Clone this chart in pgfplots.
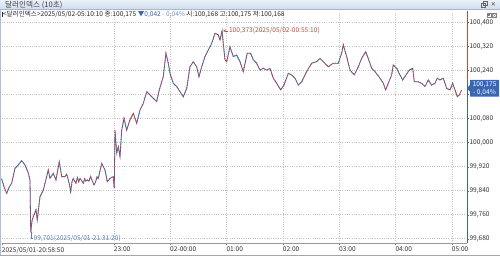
\documentclass[border=0pt]{standalone}
\usepackage{fontspec}
\setmainfont{Noto Sans CJK KR}
\newfontfamily\dejavu{DejaVu Sans}
\usepackage{pgfplots}
\usepackage{pgfplotstable}
\pgfplotsset{compat=1.18}
\definecolor{upred}{HTML}{C8453C}
\definecolor{dnblue}{HTML}{3D63AE}
\definecolor{gridc}{HTML}{C4C4C4}
\definecolor{tagblue}{HTML}{3A66B2}
\definecolor{barA}{HTML}{EAF1F9}
\definecolor{barB}{HTML}{CDDBEC}
\definecolor{lowc}{HTML}{5B7DB5}

\pgfplotstableread{
h v
-2.994 99.880
-2.950 99.852
-2.905 99.831
-2.860 99.852
-2.816 99.865
-2.757 99.915
-2.699 99.926
-2.639 99.940
-2.580 99.926
-2.521 99.899
-2.491 99.875
-2.478 99.701
-2.455 99.740
-2.433 99.753
-2.385 99.776
-2.362 99.742
-2.314 99.820
-2.255 99.842
-2.195 99.887
-2.167 99.909
-2.136 99.881
-2.078 99.898
-2.030 99.876
-1.971 99.937
-1.928 99.887
-1.870 99.887
-1.840 99.895
-1.811 99.876
-1.790 99.860
-1.769 99.837
-1.745 99.870
-1.723 99.881
-1.700 99.872
-1.675 99.865
-1.650 99.884
-1.625 99.870
-1.604 99.881
-1.575 99.874
-1.545 99.865
-1.520 99.880
-1.500 99.872
-1.474 99.876
-1.445 99.872
-1.414 99.887
-1.390 99.875
-1.355 99.859
-1.330 99.868
-1.300 99.886
-1.279 99.881
-1.218 99.931
-1.160 99.909
-1.119 99.870
-1.071 99.881
-1.012 99.887
-0.995 99.848
-0.982 100.042
-0.952 99.965
-0.923 99.987
-0.893 99.953
-0.863 100.042
-0.822 100.081
-0.775 100.042
-0.716 100.076
-0.657 100.098
-0.597 100.065
-0.538 100.109
-0.480 100.131
-0.419 100.170
-0.361 100.159
-0.302 100.148
-0.242 100.137
-0.196 100.176
-0.125 100.220
-0.077 100.298
-0.036 100.265
-0.006 100.231
0.053 100.198
0.113 100.187
0.172 100.170
0.230 100.153
0.291 100.181
0.349 100.253
0.408 100.270
0.468 100.253
0.509 100.220
0.557 100.253
0.615 100.287
0.674 100.309
0.734 100.331
0.793 100.365
0.852 100.359
0.882 100.342
0.919 100.373
0.940 100.331
0.971 100.276
1.001 100.270
1.059 100.320
1.118 100.287
1.178 100.292
1.237 100.270
1.295 100.237
1.366 100.298
1.427 100.298
1.473 100.276
1.533 100.265
1.592 100.242
1.650 100.248
1.711 100.242
1.769 100.248
1.828 100.215
1.888 100.198
1.959 100.176
2.018 100.192
2.094 100.231
2.155 100.226
2.213 100.215
2.272 100.192
2.332 100.203
2.421 100.237
2.510 100.265
2.598 100.270
2.657 100.281
2.716 100.270
2.804 100.253
2.893 100.265
2.982 100.265
3.042 100.298
3.071 100.326
3.131 100.287
3.190 100.242
3.266 100.226
3.337 100.253
3.397 100.281
3.468 100.303
3.514 100.281
3.575 100.248
3.633 100.237
3.722 100.215
3.781 100.198
3.823 100.176
3.869 100.198
3.930 100.226
3.958 100.259
4.019 100.248
4.077 100.226
4.125 100.209
4.184 100.226
4.242 100.242
4.303 100.248
4.331 100.203
4.402 100.203
4.463 100.198
4.521 100.187
4.580 100.209
4.640 100.192
4.699 100.198
4.739 100.215
4.787 100.209
4.846 100.215
4.906 100.181
4.965 100.176
5.013 100.198
5.054 100.176
5.095 100.153
5.134 100.160
5.169 100.175
}\prices

\newcommand\sm{\fontsize{6.6pt}{7pt}\selectfont}

\begin{document}
\begin{tikzpicture}
\begin{scope}[x=1pt,y=1pt]
\useasboundingbox (0,0) rectangle (500,256);
% title bar
\shade[top color=barA,bottom color=barB] (0,246.3) rectangle (500,256);
\draw[barB!60!gray,line width=0.5pt] (0,246.3) -- (500,246.3);
\node[anchor=west,inner sep=0pt,font=\fontsize{7.6}{8}\selectfont,text=black!75] at (5,251.2) {달러인덱스 (10초)};
\draw[black!60,line width=0.5pt] (481.5,249) rectangle (485.5,253);
\draw[black!60,line width=0.5pt] (483,250.5) rectangle (487,254.5);
\node[inner sep=0pt,font=\dejavu\bfseries\fontsize{6}{7}\selectfont,text=black!70] at (493.5,251.2) {✕};
% frame
\draw[lowc!50,line width=1pt] (0.5,0) -- (0.5,246);
\draw[black!35,line width=0.5pt] (0,0.4) -- (500,0.4);
\end{scope}
\begin{axis}[
  at={(2pt,12.7pt)}, anchor=south west,
  width=465pt, height=232.3pt, scale only axis,
  xmin=-2.988, xmax=5.267, ymin=99.6647, ymax=100.439,
  axis line style={draw=none},
  clip=false,
  xtick={-1,0,1,2,3,4,5},
  xticklabels={23:00,02-00:00,01:00,02:00,03:00,04:00,05:00},
  extra x ticks={-2.988},
  extra x tick labels={2025/05/01-20:58:50},
  extra x tick style={grid=none},
  ytick={99.68,99.76,99.84,99.92,100.00,100.08,100.24,100.32,100.40},
  extra y ticks={100.16},
  extra y tick labels={},
  minor y tick num=3,
  xtick pos=bottom, ytick pos=right, yticklabel pos=right,
  tick align=outside,
  major tick length=2pt, minor tick length=1.2pt,
  tick style={black!55,line width=0.4pt},
  grid=major,
  major grid style={gridc,dash pattern=on 0.7pt off 1.6pt,line width=0.45pt},
  xticklabel style={anchor=north west,inner sep=0pt,font=\sm,text=black!80,xshift=-0.3pt,yshift=-1.6pt},
  yticklabel style={anchor=west,inner sep=0pt,font=\sm,text=black!80,xshift=0.3pt,
    /pgf/number format/.cd,fixed,fixed zerofill,precision=3,use comma,assume math mode=true},
]
\addplot[dnblue,line width=0.8pt] table[x=h,y=v] {\prices};
\addplot[upred,line width=0.8pt,dash pattern=on 1.1pt off 1.3pt] table[x=h,y=v] {\prices};
\draw[upred,line width=0.4pt,<-,>={stealth}] (axis cs:0.935,100.373) -- ++(5.5pt,0pt)
  node[right,inner sep=0.4pt,font=\sm,text=upred] {100,373(2025/05/02-00:55:10)};
\draw[lowc,line width=0.4pt] (axis cs:-2.478,99.701) -- ++(0pt,-5.6pt) -- ++(2.4pt,0pt)
  node[right,inner sep=0.4pt,font=\sm,text=lowc] {99,701(2025/05/01-21:31:20)};
\end{axis}
\begin{scope}[x=1pt,y=1pt]
% axes lines
\draw[black!40,line width=0.5pt] (2,12.7) -- (467,12.7);
\draw[upred,line width=1.1pt] (467.5,245) -- (467.5,176);
\draw[dnblue,line width=1.1pt] (467.5,176) -- (467.5,12.7);
% price tag
\fill[tagblue] (466.8,167.8) -- (470,171.3) -- (470,176) -- (499,176) -- (499,159.3) -- (470,159.3) -- (470,164.3) -- cycle;
\node[inner sep=0pt,font=\sm,text=white] at (484.5,171.6) {100,175};
\node[inner sep=0pt,font=\sm,text=white] at (484.5,163.6) {- 0,04\%};
% info line
\node[anchor=west,inner sep=0pt,font=\sm,text=black!85] at (1.5,241.3)
  {\rule[-0.3pt]{1.3pt}{5pt}<달러인덱스>2025/05/02-05:10:10 종:100,175 \textcolor{dnblue}{▼0,042} \textcolor{dnblue!70}{- 0,04\%} 시:100,168 고:100,175 저:100,168};
% small icons
\draw[black!50,line width=0.4pt] (487,238.5) rectangle (491,242.5);
\fill[black!50] (488,239.5) rectangle (490,241.5);
\draw[black!50,line width=0.4pt] (492.5,238.5) rectangle (496.5,242.5);
\draw[black!50,line width=0.3pt] (492.5,238.5) -- (496.5,242.5) (492.5,242.5) -- (496.5,238.5);
\end{scope}
\end{tikzpicture}
\end{document}
